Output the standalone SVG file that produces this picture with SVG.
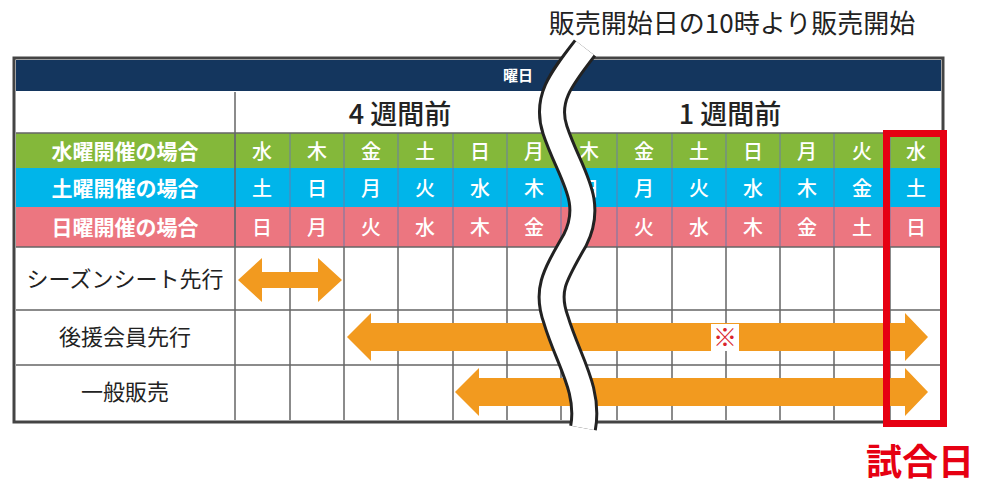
<svg xmlns="http://www.w3.org/2000/svg" width="1000" height="493" viewBox="0 0 1000 493">
<style>
text{font-family:"Noto Sans CJK JP","Noto Sans",sans-serif}
.d{fill:#fff;font-size:20px;text-anchor:middle;font-weight:500}
.l{fill:#fff;font-size:21px;text-anchor:middle;font-weight:700}
.r{fill:#222;font-size:22px;text-anchor:middle}
.g{stroke:#666;stroke-width:1.5;fill:none}
.c{stroke:#6a7ba8;stroke-width:1}
.ar{fill:#f29a1f}
</style>
<rect width="1000" height="493" fill="#fff"/>
<g id="table">
<rect x="14" y="58" width="929" height="364" fill="#fff" stroke="#444" stroke-width="3"/>
<rect x="16" y="60" width="925" height="31" fill="#14365e"/>
<text x="518" y="81" fill="#fff" font-size="15" font-weight="700" text-anchor="middle">曜日</text>
<rect x="16" y="133" width="925" height="35" fill="#84b83a"/>
<rect x="16" y="168" width="925" height="39" fill="#00b5ea"/>
<rect x="16" y="207" width="925" height="40" fill="#ec7680"/>
<g class="c">
<path d="M235 133V247M290 133V247M344 133V247M398 133V247M453 133V247M507 133V247M561 133V247M617 133V247M672 133V247M726 133V247M780 133V247M834 133V247M890 133V247"/>
</g>
<path class="g" d="M235 92V420M16 247H941M16 310H941M16 365H941M16 133H941M290 247V420M344 247V420M398 247V420M453 247V420M507 247V420M561 247V420M617 247V420M672 247V420M726 247V420M780 247V420M834 247V420M890 247V420"/>
<text x="400" y="124" font-size="27" fill="#222" text-anchor="middle" font-weight="500">4 週間前</text>
<text x="730" y="124" font-size="27" fill="#222" text-anchor="middle" font-weight="500">1 週間前</text>
<text class="l" x="125" y="159">水曜開催の場合</text>
<text class="l" x="125" y="196">土曜開催の場合</text>
<text class="l" x="125" y="235">日曜開催の場合</text>
<g class="d">
<text x="262" y="159">水</text><text x="317" y="159">木</text><text x="371" y="159">金</text><text x="425" y="159">土</text><text x="480" y="159">日</text><text x="534" y="159">月</text><text x="589" y="159">木</text><text x="644" y="159">金</text><text x="699" y="159">土</text><text x="753" y="159">日</text><text x="807" y="159">月</text><text x="862" y="159">火</text><text x="916" y="159">水</text>
<text x="262" y="196">土</text><text x="317" y="196">日</text><text x="371" y="196">月</text><text x="425" y="196">火</text><text x="480" y="196">水</text><text x="534" y="196">木</text><text x="589" y="196">日</text><text x="644" y="196">月</text><text x="699" y="196">火</text><text x="753" y="196">水</text><text x="807" y="196">木</text><text x="862" y="196">金</text><text x="916" y="196">土</text>
<text x="262" y="235">日</text><text x="317" y="235">月</text><text x="371" y="235">火</text><text x="425" y="235">水</text><text x="480" y="235">木</text><text x="534" y="235">金</text><text x="644" y="235">火</text><text x="699" y="235">水</text><text x="753" y="235">木</text><text x="807" y="235">金</text><text x="862" y="235">土</text><text x="916" y="235">日</text>
</g>
<text class="r" x="125" y="287">シーズンシート先行</text>
<text class="r" x="125" y="345">後援会員先行</text>
<text class="r" x="125" y="400">一般販売</text>
</g>
<g id="arrows">
<path class="ar" d="M238 280L262 258V272H318V258L342 280L318 302V288H262V302Z"/>
<path class="ar" d="M347 337L371 313V323H905V313L928 337L905 361V351H371V361Z"/>
<path class="ar" d="M455 392L479 368V378H905V368L928 392L905 416V406H479V416Z"/>
<rect x="711" y="324" width="28" height="27" fill="#fff"/>
<text x="725" y="346" fill="#d9242b" font-size="24" text-anchor="middle">※</text>
</g>
<g id="break">
<path d="M585 48C560 80 545 100 555 130C570 175 595 200 575 240C555 275 545 290 556 320C568 360 590 390 583 428" fill="none" stroke="#222" stroke-width="28"/>
<path d="M585 48C560 80 545 100 555 130C570 175 595 200 575 240C555 275 545 290 556 320C568 360 590 390 583 428" fill="none" stroke="#fff" stroke-width="22"/>
</g>
<g id="match">
<rect x="886.5" y="133.5" width="57" height="290" fill="none" stroke="#e60012" stroke-width="7"/>
<text x="920" y="475" fill="#e60012" font-size="36" font-weight="700" text-anchor="middle">試合日</text>
</g>
<text x="732" y="33" fill="#222" font-size="26" text-anchor="middle">販売開始日の10時より販売開始</text>
</svg>
